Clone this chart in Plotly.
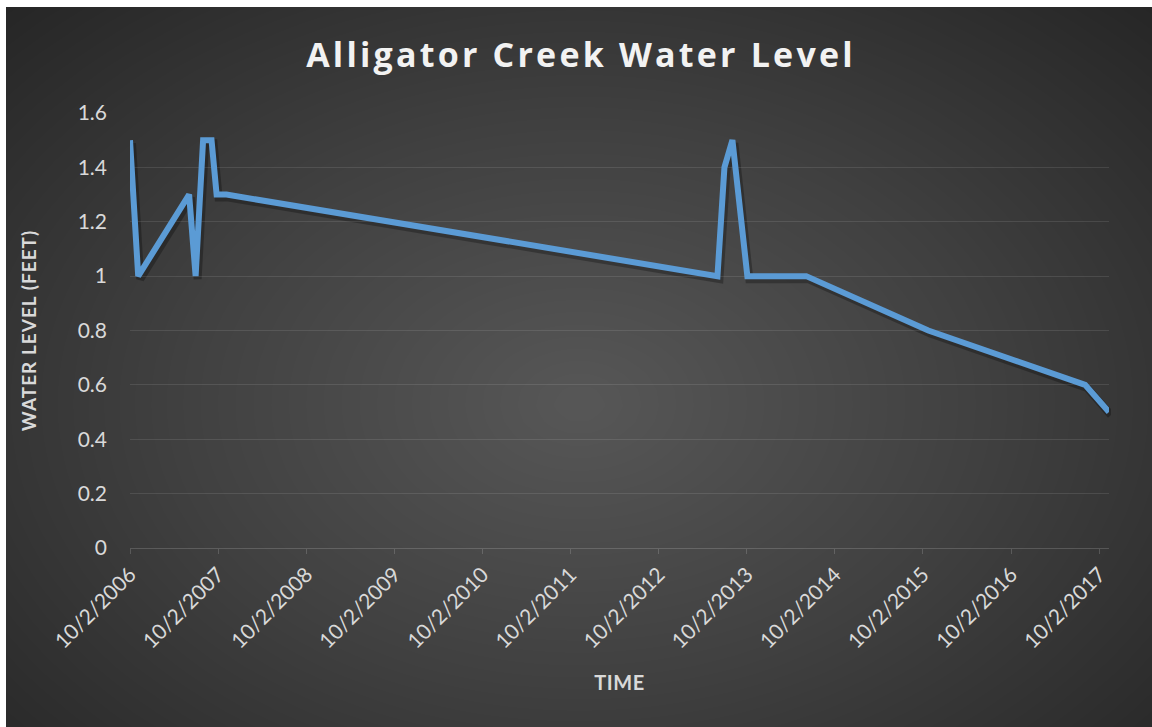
import numpy as np
import plotly.graph_objects as go

# ---- data ----
dates = ["2006-10-02", "2006-11-05", "2007-06-04", "2007-07-01", "2007-08-01",
         "2007-09-05", "2007-09-26", "2007-11-06", "2013-06-02", "2013-07-01",
         "2013-08-03", "2013-10-04", "2014-06-05", "2015-10-24", "2017-08-04",
         "2017-11-11"]
levels = [1.5, 1.0, 1.3, 1.0, 1.5, 1.5, 1.3, 1.3, 1.0, 1.4, 1.5, 1.0, 1.0, 0.8,
          0.6, 0.5]
tick_dates = ["%d-10-02" % y for y in range(2006, 2018)]
tick_labels = ["10/2/%d" % y for y in range(2006, 2018)]
y_ticks = [0, 0.2, 0.4, 0.6, 0.8, 1.0, 1.2, 1.4, 1.6]
y_labels = ["0", "0.2", "0.4", "0.6", "0.8", "1", "1.2", "1.4", "1.6"]

W, H = 1152, 727
FONT = "Lato"
BL, BT = 6, 7          # thin white border (left, top) around the dark chart area

# ---- plot area geometry (pixels) ----
px_l, px_r, px_t, px_b = 130, 1109, 113, 548
xdom = [px_l / W, px_r / W]
ydom = [(H - px_b) / H, (H - px_t) / H]

fig = go.Figure()

# radial background (chart-area gradient) drawn as a smooth heatmap
gx = np.linspace(0, 1, 64)
gy = np.linspace(0, 1, 48)
GX, GY = np.meshgrid(gx, gy)
cx, cy = 0.5, 0.45
Z = np.sqrt(((GX - cx) / 0.5) ** 2 + ((GY - cy) / 0.55) ** 2) / np.sqrt(2)
fig.add_trace(go.Heatmap(
    x=gx, y=gy, z=Z, zsmooth="best", showscale=False, hoverinfo="skip",
    colorscale=[[0, "#575757"], [0.5, "#404040"], [1, "#262626"]],
    zmin=0, zmax=1, xaxis="x", yaxis="y"))

# soft shadow of the line (offset subplot)
fig.add_trace(go.Scatter(
    x=dates, y=levels, mode="lines", hoverinfo="skip", showlegend=False,
    line=dict(color="rgba(0,0,0,0.28)", width=8),
    xaxis="x2", yaxis="y2"))

# main line
fig.add_trace(go.Scatter(
    x=dates, y=levels, mode="lines", name="Water level",
    line=dict(color="#5B9BD5", width=6),
    xaxis="x3", yaxis="y3"))

xr = [dates[0], dates[-1]]
sh_dx, sh_dy = 2 / W, 3 / H

fig.update_layout(
    width=W, height=H,
    margin=dict(l=0, r=0, t=0, b=0, pad=0),
    paper_bgcolor="white",
    plot_bgcolor="rgba(0,0,0,0)",
    showlegend=False,
    title=dict(text='<span style="letter-spacing:3.2px"><b>Alligator Creek Water Level</b></span>',
               x=581 / W, xanchor="center", y=1 - 55 / H,
               yanchor="middle", automargin=False,
               font=dict(family="Open Sans", size=34, color="#F2F2F2")),
    xaxis=dict(domain=[BL / W, 1], range=[0, 1], visible=False, fixedrange=True,
               automargin=False),
    yaxis=dict(domain=[0, 1 - BT / H], range=[0, 1], visible=False, fixedrange=True,
               automargin=False),
    xaxis2=dict(domain=[xdom[0] + sh_dx, xdom[1] + sh_dx], range=xr, type="date",
                visible=False, anchor="y2", automargin=False),
    yaxis2=dict(domain=[ydom[0] - sh_dy, ydom[1] - sh_dy], range=[0, 1.6],
                visible=False, anchor="x2", automargin=False),
    xaxis3=dict(domain=xdom, range=xr, type="date", anchor="y3", automargin=False,
                tickmode="array", tickvals=tick_dates, ticktext=tick_labels,
                tickangle=-45, tickfont=dict(family=FONT, size=21, color="#D9D9D9"),
                showgrid=False, zeroline=False,
                showline=True, linecolor="rgba(255,255,255,0.16)", linewidth=1,
                ticks="outside", ticklen=5, tickcolor="rgba(255,255,255,0.16)",
                title=dict(text='<span style="letter-spacing:0.5px"><b>TIME</b></span>',
                           standoff=24,
                           font=dict(family=FONT, size=20, color="#D9D9D9"))),
    yaxis3=dict(domain=ydom, range=[0, 1.6], anchor="x3", automargin=False,
                tickmode="array", tickvals=y_ticks, ticktext=y_labels,
                tickfont=dict(family=FONT, size=21, color="#D9D9D9"),
                showgrid=True, gridcolor="rgba(255,255,255,0.10)", gridwidth=1,
                zeroline=False, showline=False, ticks="", ticklabelstandoff=22,
                title=dict(text='<span style="letter-spacing:1px"><b>WATER LEVEL (FEET)</b></span>',
                           standoff=36,
                           font=dict(family=FONT, size=19, color="#D9D9D9"))),
)

fig.write_html(
    "out.html",
    config={"displayModeBar": False},
    post_script=("document.body.style.margin='0';"
                 "document.documentElement.style.overflow='hidden';"))
